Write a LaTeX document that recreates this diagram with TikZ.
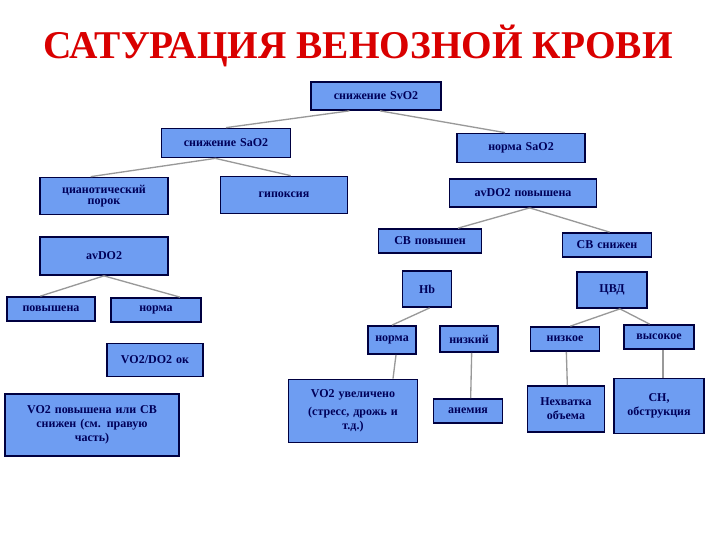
\documentclass[tikz,border=0pt]{standalone}
\usepackage{fontspec}
\setmainfont{Liberation Serif}
\begin{document}
\begin{tikzpicture}[x=0.75pt,y=-0.75pt,
 bx/.style={draw=black!75!blue,line width=1.3pt,fill=bxfill,inner sep=1pt,font=\bfseries\fontsize{9}{10.5}\selectfont,text=black!65!blue,align=center},
 ln/.style={draw=gray!80,line width=1pt}]
\definecolor{bxfill}{HTML}{6E9DF2}
\useasboundingbox (0,0) rectangle (720,540);
\node[text=red!85!black,font=\bfseries\fontsize{29.5}{32}\selectfont] (t) at (358,46) {САТУРАЦИЯ ВЕНОЗНОЙ КРОВИ};
\newcommand{\bn}[6]{\node[bx,minimum width=#4*0.75pt,minimum height=#5*0.75pt,text width=#4*0.75pt-4pt] (#1) at (#2,#3) {#6};}
\bn{sv}{376}{96}{130}{28}{снижение SvO2}
\bn{sal}{226}{143}{129}{29}{снижение SaO2}
\bn{san}{521}{148}{128}{29}{норма SaO2}
\bn{cy}{104}{196}{128}{37}{цианотический\\[-2pt]порок}
\bn{gi}{284}{195}{127}{37}{гипоксия\\[4pt]}
\bn{avp}{523}{193}{147}{28}{avDO2 повышена}
\bn{av}{104}{256}{128}{38}{avDO2}
\bn{cbp}{430}{241}{103}{24}{СВ повышен}
\bn{cbs}{607}{245}{89}{24}{СВ снижен}
\bn{hb}{427}{289}{49}{36}{Hb\\[4pt]}
\bn{cvd}{612}{290}{70}{36}{ЦВД}
\bn{pov}{51}{309}{88}{24}{повышена}
\bn{nor}{156}{310}{90}{24}{норма}
\bn{hbn}{392}{340}{48}{28}{норма}
\bn{hbl}{469}{339}{58}{26}{низкий}
\bn{cl}{565}{339}{69}{24}{низкое}
\bn{ch}{659}{337}{70}{24}{высокое}
\bn{vd}{155}{360}{96}{33}{VO2/DO2 ок}
\bn{vp}{92}{425}{174}{62}{VO2 повышена или СВ\\снижен (см. правую\\часть)}
\bn{vu}{353}{411}{129}{63}{VO2 увеличено\\[3pt](стресс, дрожь и\\т.д.)}
\bn{an}{468}{411}{69}{24}{анемия}
\bn{ne}{566}{409}{77}{46}{Нехватка\\объема}
\bn{cn}{659}{406}{90}{55}{CH,\\обструкция}
\draw[ln] ([xshift=-20pt]sv.south) -- (sal.north);
\draw[ln] ([xshift=3pt]sv.south) -- ([xshift=-12pt]san.north);
\draw[ln] ([xshift=-8pt]sal.south) -- ([xshift=-10pt]cy.north);
\draw[ln] ([xshift=-8pt]sal.south) -- ([xshift=5pt]gi.north);
\draw[ln] ([xshift=5pt]avp.south) -- ([xshift=21pt]cbp.north);
\draw[ln] ([xshift=5pt]avp.south) -- ([xshift=2pt]cbs.north);
\draw[ln] (av.south) -- ([xshift=-8pt]pov.north);
\draw[ln] (av.south) -- ([xshift=18pt]nor.north);
\draw[ln] ([xshift=2pt]hb.south) -- (hbn.north);
\draw[ln] ([xshift=6pt]cvd.south) -- ([xshift=4pt]cl.north);
\draw[ln] ([xshift=6pt]cvd.south) -- ([xshift=-7pt]ch.north);
\draw[ln] ([xshift=3pt]hbn.south) -- ([xshift=30pt]vu.north);
\draw[ln] ([xshift=2pt]hbl.south) -- ([xshift=2pt]an.north);
\draw[ln] ([xshift=1pt]cl.south) -- ([xshift=1pt]ne.north);
\draw[ln] ([xshift=3pt]ch.south) -- ([xshift=3pt]cn.north);
\end{tikzpicture}
\end{document}
